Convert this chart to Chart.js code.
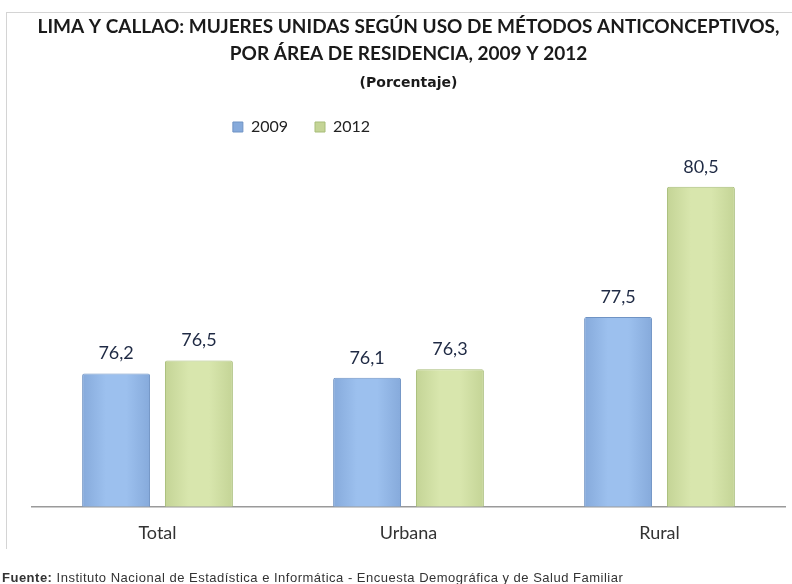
<!DOCTYPE html>
<html>
<head>
<meta charset="utf-8">
<script src="https://cdn.jsdelivr.net/npm/chart.js@4"></script>
<style>
  html, body { margin: 0; padding: 0; background: #fff; overflow: hidden; }
  #marco { position: absolute; left: 6px; top: 12px; width: 790px; height: 536px;
           border-left: 1px solid #d4d4d4; border-top: 1px solid #d4d4d4; }
  #cont { position: absolute; left: 0; top: 0; width: 792px; height: 584px; }
  #fuente { position: absolute; left: 2px; top: 570px; font: 13px "Liberation Sans", sans-serif;
            color: #333; white-space: nowrap; letter-spacing: 0.5px; }
</style>
</head>
<body>
<div id="marco"></div>
<div id="cont"><canvas id="grafica" width="792" height="584"></canvas></div>
<div id="fuente"><b>Fuente:</b> Instituto Nacional de Estadística e Informática - Encuesta Demográfica y de Salud Familiar</div>
<script>
const categorias = ['Total', 'Urbana', 'Rural'];
const anios = ['2009', '2012'];
const valores2009 = [76.2, 76.1, 77.5];
const valores2012 = [76.5, 76.3, 80.5];

const CAT_PCT = 0.66;
const BAR_PCT = 0.82;

// colores: borde, centro, orilla
const azul = ['#6f93c4', '#9cc0ee', '#86aadb'];
const verde = ['#a7bd78', '#d8e6ad', '#c4d496'];

function degradado(ctx, colores, lado) {
    const chart = ctx.chart;
    const escala = chart.scales.x;
    if (ctx.type !== 'data' || !escala || !escala.width) return colores[1];
    const ancho = escala.width / categorias.length;
    const slot = ancho * CAT_PCT / 2;
    const centro = escala.getPixelForValue(ctx.dataIndex) + (lado - 0.5) * slot;
    const w = slot * BAR_PCT;
    const g = chart.ctx.createLinearGradient(centro - w / 2, 0, centro + w / 2, 0);
    g.addColorStop(0, colores[2]);
    g.addColorStop(0.35, colores[1]);
    g.addColorStop(0.65, colores[1]);
    g.addColorStop(1, colores[2]);
    return g;
}

// etiquetas con coma decimal encima de cada barra
const etiquetas = {
    id: 'etiquetas',
    afterDatasetsDraw(chart) {
        const ctx = chart.ctx;
        ctx.save();
        ctx.font = '18px Lato';
        ctx.fillStyle = '#1f2a44';
        ctx.textAlign = 'center';
        ctx.textBaseline = 'alphabetic';
        chart.data.datasets.forEach((ds, i) => {
            chart.getDatasetMeta(i).data.forEach((bar, j) => {
                ctx.fillText(ds.data[j].toFixed(1).replace('.', ','), bar.x, bar.y - 14);
            });
        });
        ctx.restore();
    }
};

// mueve la leyenda a la izquierda como en el original
const moverLeyenda = {
    id: 'moverLeyenda',
    afterLayout(chart) {
        chart.legend.left -= 214;
    }
};

new Chart(document.getElementById('grafica'), {
    type: 'bar',
    data: {
        labels: categorias,
        datasets: [{
            label: anios[0],
            data: valores2009,
            backgroundColor: ctx => degradado(ctx, azul, 0),
            borderColor: azul[0],
            borderWidth: 1,
            borderRadius: 2,
            borderSkipped: 'bottom'
        }, {
            label: anios[1],
            data: valores2012,
            backgroundColor: ctx => degradado(ctx, verde, 1),
            borderColor: verde[0],
            borderWidth: 1,
            borderRadius: 2,
            borderSkipped: 'bottom'
        }]
    },
    options: {
        responsive: false,
        animation: false,
        layout: { padding: { left: 32, right: 7, top: 0, bottom: 32 } },
        categoryPercentage: CAT_PCT,
        barPercentage: BAR_PCT,
        scales: {
            x: {
                grid: { display: false },
                border: { color: '#9a9a9a', width: 1.5 },
                ticks: { color: '#333', font: { family: 'Lato', size: 18 }, padding: 8 }
            },
            y: {
                display: false,
                min: 73.14,
                max: 81.46
            }
        },
        plugins: {
            title: {
                display: true,
                text: ['LIMA Y CALLAO: MUJERES UNIDAS SEGÚN USO DE MÉTODOS ANTICONCEPTIVOS,',
                       'POR ÁREA DE RESIDENCIA, 2009 Y 2012'],
                color: '#1a1a1a',
                font: { family: 'Lato', size: 19, weight: 'bold', lineHeight: 1.4 },
                padding: { top: 14, bottom: 8 }
            },
            subtitle: {
                display: true,
                text: '(Porcentaje)',
                color: '#1a1a1a',
                font: { family: 'DejaVu Sans', size: 14, weight: 'bold', lineHeight: 1.2 },
                padding: { top: 0, bottom: 0 }
            },
            legend: {
                labels: {
                    color: '#222',
                    font: { family: 'Lato', size: 16 },
                    boxWidth: 10,
                    boxHeight: 10,
                    padding: 27
                }
            },
            tooltip: { enabled: false }
        }
    },
    plugins: [etiquetas, moverLeyenda]
});
</script>
</body>
</html>
